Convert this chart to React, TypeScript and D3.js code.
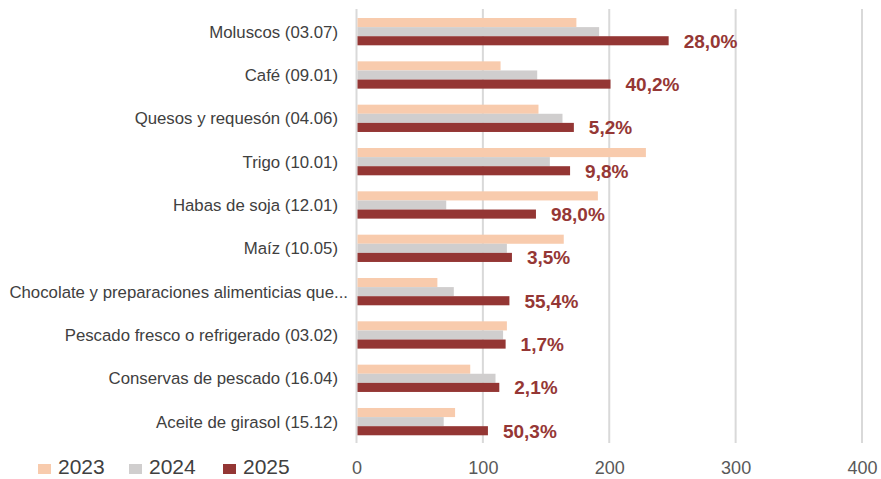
import { useEffect, useRef } from "react";
import * as d3 from "d3";

const categories = [
  "Moluscos (03.07)",
  "Café (09.01)",
  "Quesos y requesón (04.06)",
  "Trigo (10.01)",
  "Habas de soja (12.01)",
  "Maíz (10.05)",
  "Chocolate y preparaciones alimenticias que...",
  "Pescado fresco o refrigerado (03.02)",
  "Conservas de pescado (16.04)",
  "Aceite de girasol (15.12)",
];
const years = ["2023", "2024", "2025"];
const values2023 = [174, 114, 144, 229, 191, 164, 64, 119, 90, 78];
const values2024 = [192, 143, 163, 153, 71, 119, 77, 116, 110, 69];
const values2025 = [247, 201, 172, 169, 142, 123, 121, 118, 113, 104];
const changeLabels = ["28,0%", "40,2%", "5,2%", "9,8%", "98,0%", "3,5%", "55,4%", "1,7%", "2,1%", "50,3%"];
const xTicks = [0, 100, 200, 300, 400];

const colors = ["#F8CBAD", "#D0CECE", "#943634"];
const font = "'Liberation Sans', Arial, sans-serif";

export default function App() {
  const ref = useRef<SVGSVGElement>(null);

  useEffect(() => {
    const width = 881;
    const height = 479;
    const svg = d3.select(ref.current);
    svg.selectAll("*").remove();
    svg.attr("width", width).attr("height", height);

    const x = d3.scaleLinear().domain([0, 400]).range([356.5, 862]);
    const y0 = d3
      .scaleBand()
      .domain(categories)
      .range([10, 443.3])
      .paddingInner(0.37)
      .paddingOuter(0.185);
    const y1 = d3.scaleBand().domain(years).range([0, y0.bandwidth()]);

    // grid
    svg
      .append("g")
      .selectAll("line")
      .data(xTicks)
      .enter()
      .append("line")
      .attr("x1", (d) => x(d))
      .attr("x2", (d) => x(d))
      .attr("y1", 9)
      .attr("y2", 443)
      .attr("stroke", "#D9D9D9")
      .attr("stroke-width", 2);

    const series = [values2023, values2024, values2025];
    series.forEach((vals, si) => {
      svg
        .append("g")
        .selectAll("rect")
        .data(vals)
        .enter()
        .append("rect")
        .attr("x", x(0) + 1)
        .attr("y", (d, i) => (y0(categories[i]) as number) + (y1(years[si]) as number))
        .attr("width", (d) => x(d) - x(0) - 1)
        .attr("height", y1.bandwidth())
        .attr("fill", colors[si]);
    });

    // change labels
    svg
      .append("g")
      .selectAll("text")
      .data(values2025)
      .enter()
      .append("text")
      .attr("x", (d) => x(d) + 15)
      .attr("y", (d, i) => (y0(categories[i]) as number) + (y1("2025") as number) + y1.bandwidth() / 2)
      .attr("dy", "0.36em")
      .attr("font-family", font)
      .attr("font-weight", "bold")
      .attr("font-size", 19)
      .attr("fill", "#953735")
      .text((d, i) => changeLabels[i]);

    // category labels (truncated ones run a bit further right, like Excel)
    svg
      .append("g")
      .selectAll("text")
      .data(categories)
      .enter()
      .append("text")
      .attr("x", (d) => (d.endsWith("...") ? 348 : 338))
      .attr("y", (d) => (y0(d) as number) + y0.bandwidth() / 2)
      .attr("dy", "0.36em")
      .attr("text-anchor", "end")
      .attr("font-family", font)
      .attr("font-size", 16.8)
      .attr("fill", "#404040")
      .text((d) => d);

    // x axis labels
    const xAxis = d3.axisBottom(x).tickValues(xTicks).tickSize(0).tickPadding(0);
    const ax = svg.append("g").attr("transform", "translate(0,461)").call(xAxis);
    ax.select(".domain").remove();
    ax.selectAll("text")
      .attr("font-family", font)
      .attr("font-size", 18)
      .attr("fill", "#595959")
      .attr("dy", "0.71em");

    // legend
    const legendX = [38, 129, 223];
    const lg = svg
      .append("g")
      .selectAll("g")
      .data(years)
      .enter()
      .append("g")
      .attr("transform", (d, i) => `translate(${legendX[i]},464)`);
    lg.append("rect").attr("width", 13).attr("height", 10).attr("fill", (d, i) => colors[i]);
    lg.append("text")
      .attr("x", 20)
      .attr("y", 10)
      .attr("font-family", font)
      .attr("font-size", 21)
      .attr("fill", "#404040")
      .text((d) => d);
  }, []);

  return (
    <div style={{ position: "absolute", left: 0, top: 0 }}>
      <svg ref={ref} style={{ display: "block" }}></svg>
    </div>
  );
}
